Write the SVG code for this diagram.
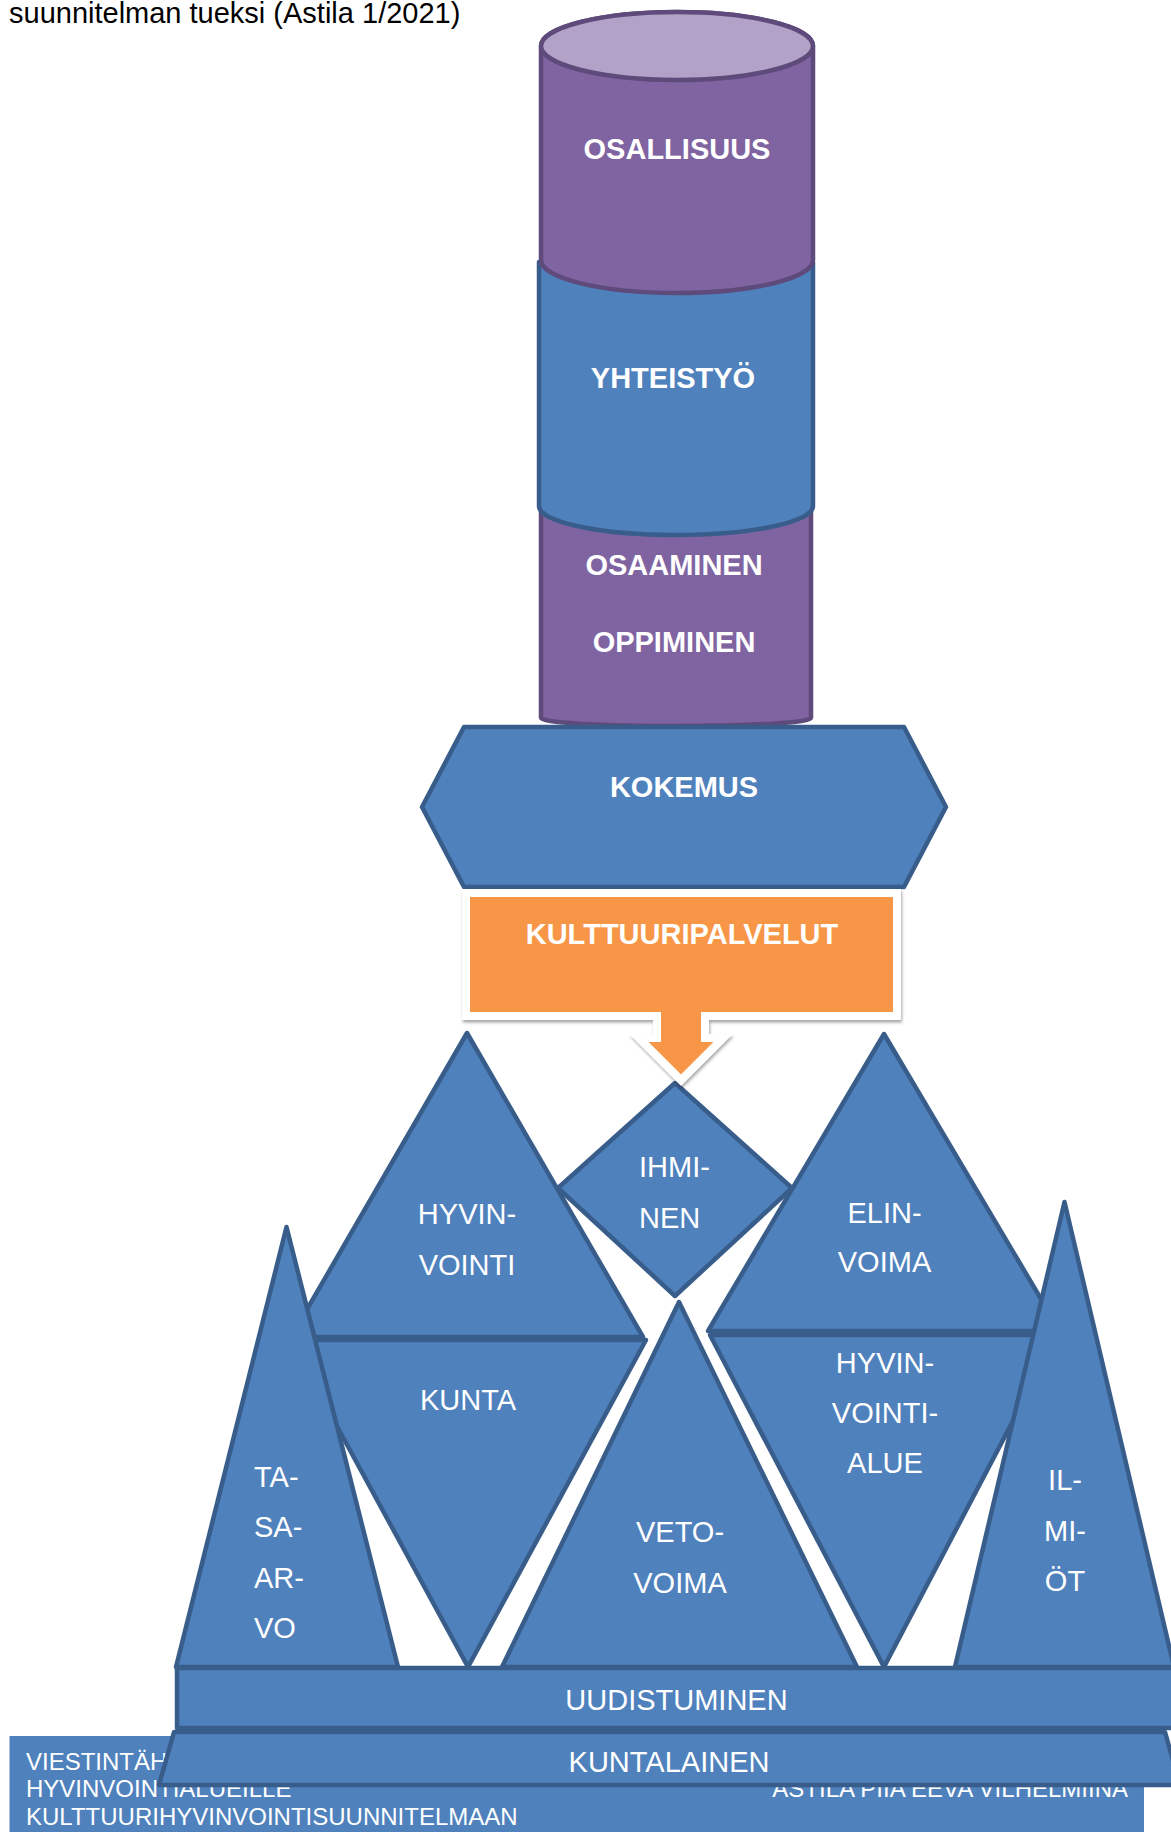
<svg xmlns="http://www.w3.org/2000/svg" width="1171" height="1832" viewBox="0 0 1171 1832">
<defs>
<style>
.t{font-family:"Liberation Sans",Arial,sans-serif;fill:#fff;font-size:29px}
.b{font-weight:bold}
.m{text-anchor:middle}
.e{text-anchor:end}
.s{font-size:24px}
.blue{fill:#4F81BD;stroke:#385D8A;stroke-width:4.5;stroke-linejoin:round}
.purp{fill:#8064A2;stroke:#5E4A7B;stroke-width:4.5;stroke-linejoin:round}
</style>
<filter id="sh" x="-5%" y="-5%" width="110%" height="115%">
<feDropShadow dx="1" dy="2.5" stdDeviation="1.5" flood-color="#000" flood-opacity="0.35"/>
</filter>
</defs>
<rect width="1171" height="1832" fill="#fff"/>
<text x="9" y="23" style="font-family:'Liberation Sans',Arial,sans-serif;font-size:29px;fill:#000">suunnitelman tueksi (Astila 1/2021)</text>

<g id="info-box">
<rect x="9.5" y="1736" width="1134.5" height="100" fill="#4F81BD"/>
<text class="t s" x="26" y="1770">VIESTINTÄH</text>
<text class="t s" x="26" y="1797">HYVINVOINTIALUEILLE</text>
<text class="t s" x="26" y="1825">KULTTUURIHYVINVOINTISUUNNITELMAAN</text>
<text class="t s e" x="1128" y="1797">ASTILA PIIA EEVA VILHELMIINA</text>
</g>

<g id="osaaminen">
<path class="purp" d="M541,500 V718 A135,8 0 0 0 811,718 V500 Z"/>
<text class="t b m" x="674" y="575">OSAAMINEN</text>
<text class="t b m" x="674" y="652">OPPIMINEN</text>
</g>
<g id="yhteistyo">
<path class="blue" d="M539,262 V506 A137,29 0 0 0 813,506 V262 Z"/>
<text class="t b m" x="673" y="388">YHTEISTYÖ</text>
</g>
<g id="osallisuus">
<path class="purp" d="M541,46 V260 A136,33 0 0 0 813,260 V46 A136,34 0 0 0 541,46 Z"/>
<ellipse cx="677" cy="46" rx="136" ry="34" fill="#B3A2C7" stroke="#5E4A7B" stroke-width="4.5"/>
<text class="t b m" x="677" y="159">OSALLISUUS</text>
</g>

<g id="kokemus">
<polygon class="blue" points="464,727 904,727 946,807 904,887 464,887 422,807"/>
<text class="t b m" x="684" y="797">KOKEMUS</text>
</g>

<g id="kunta">
<polygon class="blue" points="290,1340 646,1340 468,1667"/>
<text class="t m" x="468" y="1410">KUNTA</text>
</g>
<g id="hyvinvointi">
<polygon class="blue" points="467,1033 643,1337 291,1337"/>
<text class="t m" x="467" y="1224">HYVIN-</text>
<text class="t m" x="467" y="1275">VOINTI</text>
</g>
<g id="hyvinvointialue">
<polygon class="blue" points="710,1335 1058,1335 884,1667"/>
<text class="t m" x="885" y="1373">HYVIN-</text>
<text class="t m" x="885" y="1423">VOINTI-</text>
<text class="t m" x="885" y="1473">ALUE</text>
</g>
<g id="elinvoima">
<polygon class="blue" points="884,1034 1060,1331 708,1331"/>
<text class="t m" x="884.5" y="1223">ELIN-</text>
<text class="t m" x="884.5" y="1272">VOIMA</text>
</g>
<g id="ihminen">
<polygon class="blue" points="675,1083 792,1188 675,1296 558,1188"/>
<text class="t" x="639" y="1177">IHMI-</text>
<text class="t" x="639" y="1228">NEN</text>
</g>
<g id="vetovoima">
<polygon class="blue" points="679,1302 857,1667 502,1667"/>
<text class="t m" x="680" y="1542">VETO-</text>
<text class="t m" x="680" y="1593">VOIMA</text>
</g>
<g id="tasaarvo">
<polygon class="blue" points="286.5,1227 398,1667 176,1667"/>
<text class="t" x="254" y="1487">TA-</text>
<text class="t" x="254" y="1537">SA-</text>
<text class="t" x="254" y="1588">AR-</text>
<text class="t" x="254" y="1638">VO</text>
</g>
<g id="ilmiot">
<polygon class="blue" points="1064.5,1202 1174,1667 955,1667"/>
<text class="t m" x="1065" y="1490">IL-</text>
<text class="t m" x="1065" y="1541">MI-</text>
<text class="t m" x="1065" y="1591">ÖT</text>
</g>

<g id="kulttuuripalvelut">
<path d="M466,893 H897 V1016 H705 V1038 H723 L681,1080 L639,1038 H657 V1016 H466 Z" fill="#F79646" stroke="#fff" stroke-width="8" filter="url(#sh)"/>
<text class="t b m" x="682" y="944">KULTTUURIPALVELUT</text>
</g>

<g id="uudistuminen">
<rect class="blue" x="177" y="1668" width="1010" height="60"/>
<text class="t m" x="676.5" y="1710">UUDISTUMINEN</text>
</g>
<g id="kuntalainen">
<polygon class="blue" points="174,1732 1165,1732 1180,1785 159,1785"/>
<text class="t m" x="669" y="1772">KUNTALAINEN</text>
</g>

<g id="connectors"/>
</svg>
